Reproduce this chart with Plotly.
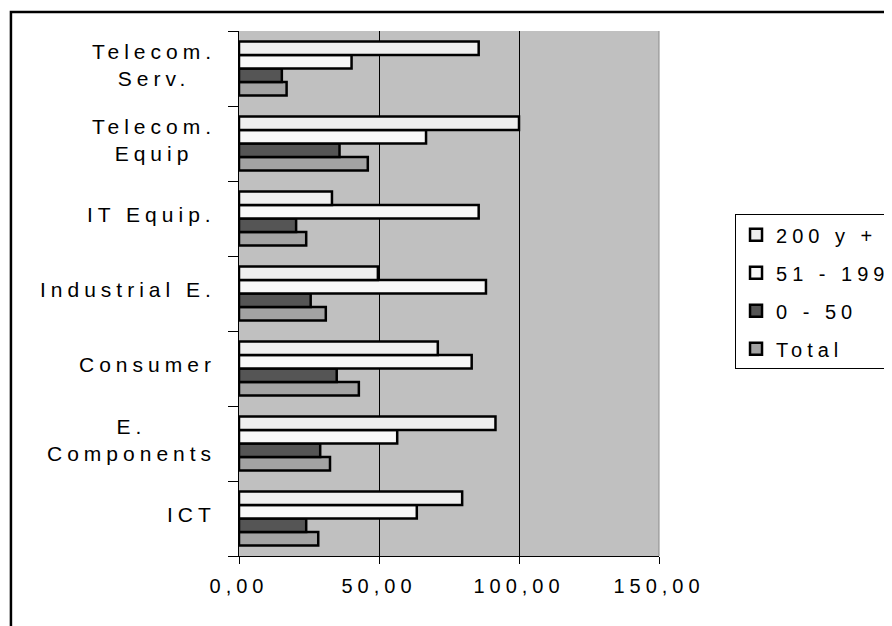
import plotly.graph_objects as go

categories = ["ICT", "E. Components", "Consumer", "Industrial E.", "IT Equip.", "Telecom. Equip", "Telecom. Serv."]
category_labels = ["ICT", "E.<br>Components", "Consumer", "Industrial E.", "IT Equip.", "Telecom.<br>Equip", "Telecom.<br>Serv."]

series_names = ["Total", "0 - 50", "51 - 199", "200 y +"]
total = [28.3, 32.5, 42.8, 31.0, 24.0, 46.0, 17.0]
size_0_50 = [24.0, 29.0, 34.9, 25.6, 20.4, 35.9, 15.3]
size_51_199 = [63.5, 56.5, 83.1, 88.2, 85.6, 66.8, 40.2]
size_200_plus = [79.7, 91.6, 71.0, 49.6, 33.2, 100.0, 85.6]
series_values = [total, size_0_50, size_51_199, size_200_plus]
series_colors = ["#a3a3a3", "#555555", "#f8f8f8", "#efefef"]
legend_ranks = [4, 3, 2, 1]

x_tick_vals = [0, 50, 100, 150]
x_tick_text = ["0,00", "50,00", "100,00", "150,00"]

FONT = "Liberation Sans, Arial, sans-serif"

def spaced(t, ls=5):
    return f"<span style='letter-spacing:{ls}px'>{t}</span>"

fig = go.Figure()
for name, vals, col, rank in zip(series_names, series_values, series_colors, legend_ranks):
    fig.add_trace(go.Bar(
        y=categories, x=vals, orientation="h", name=spaced(name),
        legendgroup=name, legendrank=rank,
        marker=dict(color=col, line=dict(color="black", width=2.5)),
    ))

annotations = []
for cat, lab in zip(categories, category_labels):
    annotations.append(dict(
        xref="paper", yref="y", x=-0.05, y=cat, yshift=4,
        text=spaced(lab, 5), showarrow=False, xanchor="right", yanchor="middle",
        align="center", font=dict(size=21, color="black", family=FONT),
    ))

fig.update_layout(
    width=892, height=626,
    margin=dict(l=231, r=241, t=23, b=78, autoexpand=False),
    paper_bgcolor="white", plot_bgcolor="#c0c0c0",
    barmode="group", bargap=0.28, bargroupgap=0,
    font=dict(family=FONT, size=20, color="black"),
    showlegend=True,
    legend=dict(
        x=1.181, y=0.651, xanchor="left", yanchor="top",
        traceorder="grouped", tracegroupgap=9,
        bordercolor="black", borderwidth=1, bgcolor="white",
        font=dict(size=20, family=FONT, color="black"),
    ),
    xaxis=dict(
        range=[0, 150], tickvals=x_tick_vals, ticktext=[spaced(t) for t in x_tick_text],
        showgrid=True, gridcolor="black", gridwidth=1, zeroline=False,
        showline=True, linecolor="black", linewidth=1,
        ticks="outside", ticklen=7, tickcolor="black", ticklabelstandoff=5,
        tickfont=dict(size=20, family=FONT, color="black"),
        fixedrange=True,
    ),
    yaxis=dict(
        categoryorder="array", categoryarray=categories,
        showticklabels=False, ticks="outside", tickson="boundaries", ticklen=10,
        tickcolor="black", showline=True, linecolor="black", linewidth=1,
        showgrid=False, zeroline=False, fixedrange=True,
    ),
    annotations=annotations,
    shapes=[
        dict(type="line", xref="paper", yref="paper", x0=1, x1=1, y0=0, y1=1,
             line=dict(color="#8a8a8a", width=1), layer="above"),
        dict(type="rect", xref="paper", yref="paper", x0=-0.543, x1=1.6, y0=-0.2, y1=1.036,
             line=dict(color="black", width=2.5), layer="below"),
    ],
)

fig.write_html("out.html")
